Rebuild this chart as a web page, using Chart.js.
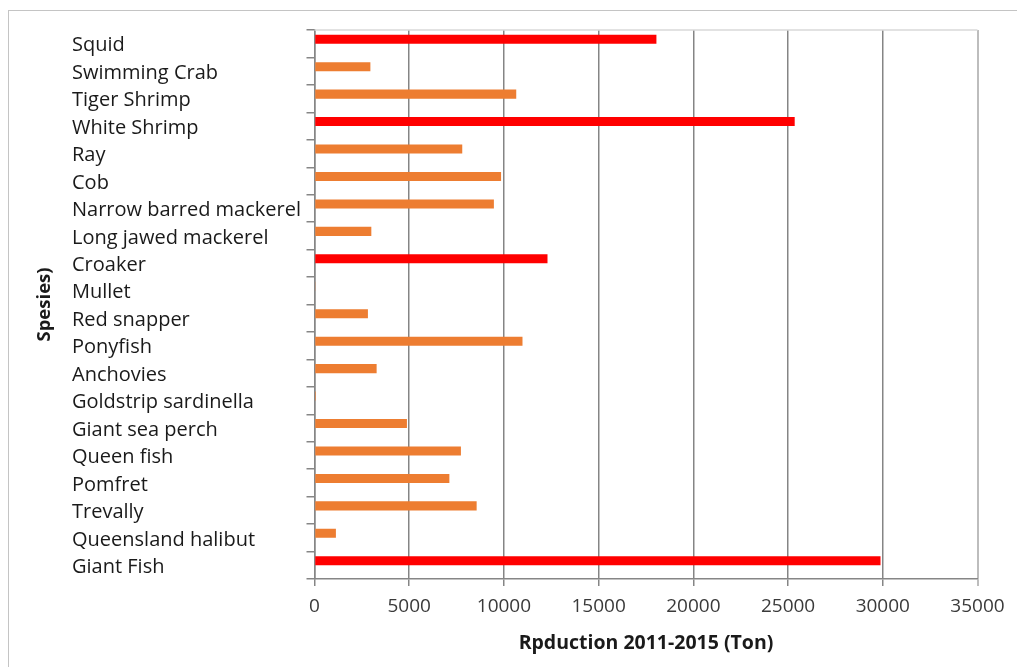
<!DOCTYPE html>
<html>
<head>
<meta charset="utf-8">
<title>Rpduction 2011-2015 (Ton)</title>
<script src="https://cdn.jsdelivr.net/npm/chart.js@4/dist/chart.umd.min.js"></script>
<style>
  html, body { margin: 0; padding: 0; background: #ffffff; }
  #wrap { position: relative; width: 1017px; height: 667px; overflow: hidden; }
  #frame {
    position: absolute; left: 8px; top: 10px; width: 1030px; height: 680px;
    border-left: 1.5px solid #c4c4c4; border-top: 1.5px solid #c4c4c4;
    border-right: none; border-bottom: none;
  }
  canvas { position: absolute; left: 0; top: 0; }
</style>
</head>
<body>
<div id="wrap">
  <div id="frame"></div>
  <canvas id="chart" width="1017" height="667"></canvas>
</div>
<script>
// Species, top to bottom
const species = [
  'Squid', 'Swimming Crab', 'Tiger Shrimp', 'White Shrimp', 'Ray', 'Cob',
  'Narrow barred mackerel', 'Long jawed mackerel', 'Croaker', 'Mullet',
  'Red snapper', 'Ponyfish', 'Anchovies', 'Goldstrip sardinella',
  'Giant sea perch', 'Queen fish', 'Pomfret', 'Trevally',
  'Queensland halibut', 'Giant Fish'
];

// Production 2011-2015, tonnes
const production = [
  18050, 2950, 10650, 25350, 7800, 9850,
  9470, 3000, 12300, 50,
  2820, 10980, 3280, 70,
  4880, 7730, 7120, 8560,
  1130, 29880
];

// Main species, shown in red
const mainSpecies = ['Squid', 'White Shrimp', 'Croaker', 'Giant Fish'];

// Empty companion series (keeps the bar slot layout of the original two-series sheet)
const companion = species.map(() => null);

// Value axis ticks
const xTicks = [0, 5000, 10000, 15000, 20000, 25000, 30000, 35000];

const FONT = "'Open Sans', 'DejaVu Sans', sans-serif";

const barColors = species.map(s => mainSpecies.includes(s) ? '#ff0000' : '#ed7d31');

// Light frame line along the top of the plot area
const plotTopLine = {
  id: 'plotTopLine',
  afterDatasetsDraw(chart) {
    const { ctx, chartArea } = chart;
    ctx.save();
    ctx.strokeStyle = '#d9d9d9';
    ctx.lineWidth = 1.5;
    ctx.beginPath();
    ctx.moveTo(chartArea.left, chartArea.top);
    ctx.lineTo(chartArea.right, chartArea.top);
    ctx.stroke();
    ctx.restore();
  }
};

// Rotated category-axis title, centred on the plot area
const categoryTitle = {
  id: 'categoryTitle',
  afterDraw(chart) {
    const { ctx, chartArea } = chart;
    ctx.save();
    ctx.translate(45, (chartArea.top + chartArea.bottom) / 2);
    ctx.rotate(-Math.PI / 2);
    ctx.font = "bold 18.5px " + FONT;
    ctx.fillStyle = '#1a1a1a';
    ctx.textAlign = 'center';
    ctx.textBaseline = 'middle';
    ctx.fillText('Spesies)', 0, 0);
    ctx.restore();
  }
};

new Chart(document.getElementById('chart'), {
  type: 'bar',
  data: {
    labels: species,
    datasets: [
      {
        label: 'Production',
        data: production,
        backgroundColor: barColors,
        borderWidth: 0
      },
      {
        label: '',
        data: companion,
        backgroundColor: 'rgba(0,0,0,0)',
        borderWidth: 0
      }
    ]
  },
  options: {
    indexAxis: 'y',
    responsive: false,
    animation: false,
    events: [],
    categoryPercentage: 0.656,
    barPercentage: 1.0,
    layout: { padding: { left: 72, top: 30, right: 39.5, bottom: 10 } },
    plugins: {
      legend: { display: false },
      tooltip: { enabled: false },
      title: { display: false }
    },
    scales: {
      x: {
        type: 'linear',
        min: xTicks[0],
        max: xTicks[xTicks.length - 1],
        afterBuildTicks(scale) { scale.ticks = xTicks.map(v => ({ value: v })); },
        afterFit(scale) { scale.height = 78; },
        grid: {
          drawOnChartArea: true,
          drawTicks: true,
          tickLength: 7,
          color: c => (c.tick && c.tick.value === xTicks[xTicks.length - 1]) ? '#bdbdbd' : '#858585',
          lineWidth: c => (c.tick && c.tick.value === xTicks[xTicks.length - 1]) ? 2 : 1.5
        },
        border: { display: true, color: '#868686', width: 1.5 },
        ticks: {
          padding: 9,
          color: '#3a3a3a',
          font: { family: FONT, size: 19 },
          maxRotation: 0,
          callback: v => String(v)
        },
        title: {
          display: true,
          text: 'Rpduction 2011-2015 (Ton)',
          color: '#1a1a1a',
          font: { family: FONT, size: 19.5, weight: 'bold' },
          padding: { top: 0, bottom: 2 }
        }
      },
      y: {
        type: 'category',
        afterFit(scale) { scale.width = 242.5; },
        grid: {
          offset: true,
          drawOnChartArea: false,
          drawTicks: true,
          tickLength: 8,
          color: '#868686',
          lineWidth: 1.5
        },
        border: { display: true, color: '#868686', width: 1.5 },
        ticks: {
          crossAlign: 'far',
          autoSkip: false,
          labelOffset: 2,
          color: '#1a1a1a',
          font: { family: FONT, size: 20 }
        }
      }
    }
  },
  plugins: [plotTopLine, categoryTitle]
});
</script>
</body>
</html>
